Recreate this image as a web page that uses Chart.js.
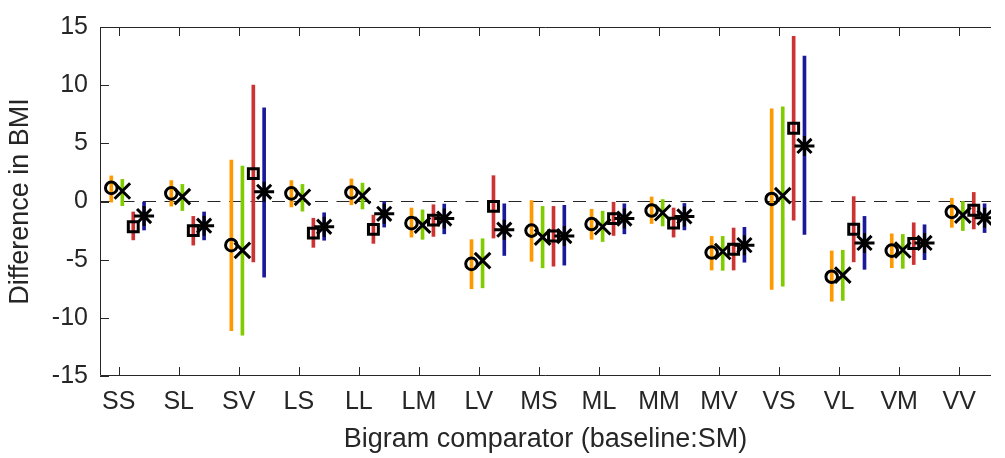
<!DOCTYPE html>
<html>
<head>
<meta charset="utf-8">
<script src="https://cdn.jsdelivr.net/npm/chart.js@4"></script>
<style>
  html, body { margin: 0; padding: 0; background: #fff; }
  #wrap { width: 1005px; height: 458px; }
</style>
</head>
<body>
<div id="wrap"><canvas id="bmiChart"></canvas></div>
<script>
// comparator bigrams (baseline SM)
const categories = ["SS", "SL", "SV", "LS", "LL", "LM", "LV", "MS", "ML", "MM", "MV", "VS", "VL", "VM", "VV"];

// orange / circle
const circleEst  = [1.17, 0.7, -3.75, 0.7, 0.78, -1.86, -5.36, -2.5, -1.94, -0.78, -4.39, 0.22, -6.47, -4.22, -0.89];
const circleLow  = [-0.05, -0.4, -11.1, -0.47, -0.28, -3.06, -7.5, -5.14, -3.25, -1.89, -5.89, -7.56, -8.58, -5.69, -2.22];
const circleHigh = [2.2, 1.8, 3.56, 1.8, 1.94, -0.56, -3.28, 0.08, -0.67, 0.39, -3.0, 7.97, -4.25, -2.78, 0.28];

// green / cross
const crossEst  = [0.9, 0.42, -4.2, 0.36, 0.5, -2.03, -5.08, -3.06, -2.17, -0.97, -4.3, 0.5, -6.33, -4.17, -1.17];
const crossLow  = [-0.36, -0.78, -11.5, -0.83, -0.64, -3.25, -7.42, -5.7, -3.44, -2.1, -5.92, -7.28, -8.5, -5.75, -2.5];
const crossHigh = [1.9, 1.47, 3.05, 1.47, 1.58, -0.72, -3.2, -0.42, -0.83, 0.17, -3.0, 8.14, -4.19, -2.83, 0];

// red / square
const squareEst  = [-2.17, -2.5, 2.4, -2.72, -2.4, -1.6, -0.42, -2.97, -1.47, -1.86, -4.1, 6.3, -2.39, -3.61, -0.75];
const squareLow  = [-3.3, -3.75, -5.2, -3.94, -3.6, -3.0, -3.14, -5.56, -2.92, -3.06, -5.89, -1.6, -5.19, -5.42, -2.36];
const squareHigh = [-0.9, -1.28, 10.0, -1.44, -1.17, -0.28, 2.22, -0.42, -0.06, -0.56, -2.28, 14.2, 0.42, -1.83, 0.78];

// blue / asterisk
const starEst  = [-1.25, -2.08, 0.83, -2.17, -1.06, -1.47, -2.42, -2.97, -1.47, -1.28, -3.75, 4.78, -3.56, -3.56, -1.39];
const starLow  = [-2.45, -3.3, -6.5, -3.33, -2.2, -2.78, -4.64, -5.47, -2.78, -2.44, -5.22, -2.83, -5.83, -5.0, -2.67];
const starHigh = [-0.05, -0.9, 8.05, -0.97, 0, -0.22, -0.2, -0.33, -0.2, -0.17, -2.22, 12.5, -1.28, -2.0, -0.2];

const yTicks = [-15, -10, -5, 0, 5, 10, 15];

const axisColor = "#262626";
const font = "'Liberation Sans', Arial, Helvetica, sans-serif";

// each series sits a little to the right of the previous one inside a group
const series = [
    { est: circleEst, low: circleLow, high: circleHigh, color: "#FF9900", style: "circle",   radius: 5.8, off: -0.123 },
    { est: crossEst,  low: crossLow,  high: crossHigh,  color: "#80CC00", style: "crossRot", radius: 11,  off: 0.061 },
    { est: squareEst, low: squareLow, high: squareHigh, color: "#CC3333", style: "rect",     radius: 7,   off: 0.243 },
    { est: starEst,   low: starLow,   high: starHigh,   color: "#1A1A99", style: "star",     radius: 10,  off: 0.423 }
];

const xMin = 0.689, xMax = 15.53;

let datasets = [];

// dashed zero line
datasets.push({
    type: "line",
    data: [{ x: xMin, y: 0 }, { x: xMax, y: 0 }],
    borderColor: "#262626",
    borderWidth: 1,
    borderDash: [13, 8.5],
    pointRadius: 0,
    order: 3
});

// error bars
series.forEach(s => {
    datasets.push({
        type: "bar",
        data: categories.map((c, i) => ({ x: i + 1 + s.off, y: [s.low[i], s.high[i]] })),
        backgroundColor: s.color,
        borderWidth: 0,
        barThickness: 3,
        grouped: false,
        order: 2
    });
});

// point estimates
series.forEach(s => {
    datasets.push({
        type: "scatter",
        data: categories.map((c, i) => ({ x: i + 1 + s.off, y: s.est[i] })),
        pointStyle: s.style,
        pointRadius: s.radius,
        pointHoverRadius: s.radius,
        pointBorderColor: "#000",
        pointBackgroundColor: "rgba(0,0,0,0)",
        pointBorderWidth: 3,
        showLine: false,
        order: 1
    });
});

// matlab style box with inward ticks
const boxPlugin = {
    id: "boxPlugin",
    afterDraw(chart) {
        const ctx = chart.ctx;
        const a = chart.chartArea;
        const xs = chart.scales.x, ys = chart.scales.y;
        const tl = 9;
        ctx.save();
        ctx.strokeStyle = axisColor;
        ctx.lineWidth = 1;
        ctx.beginPath();
        ctx.moveTo(a.right, a.top + 0.5);
        ctx.lineTo(a.left + 0.5, a.top + 0.5);
        ctx.lineTo(a.left + 0.5, a.bottom - 0.5);
        ctx.lineTo(a.right, a.bottom - 0.5);
        xs.ticks.forEach(t => {
            const px = Math.round(xs.getPixelForValue(t.value)) + 0.5;
            ctx.moveTo(px, a.bottom);
            ctx.lineTo(px, a.bottom - tl);
            ctx.moveTo(px, a.top);
            ctx.lineTo(px, a.top + tl);
        });
        ys.ticks.forEach(t => {
            const py = Math.round(ys.getPixelForValue(t.value)) + 0.5;
            ctx.moveTo(a.left, py);
            ctx.lineTo(a.left + tl, py);
        });
        ctx.stroke();
        ctx.restore();
    }
};

new Chart(document.getElementById("bmiChart"), {
    type: "scatter",
    data: { datasets: datasets },
    options: {
        responsive: true,
        maintainAspectRatio: false,
        animation: false,
        layout: { padding: { top: 17, right: 0, left: 0, bottom: 0 } },
        plugins: {
            legend: { display: false },
            tooltip: { enabled: false }
        },
        scales: {
            x: {
                type: "linear",
                min: xMin,
                max: xMax,
                offset: false,
                afterBuildTicks: scale => {
                    scale.ticks = categories.map((c, i) => ({ value: i + 1 }));
                },
                afterFit: scale => { scale.height = 82; },
                grid: { display: false, drawTicks: false },
                border: { display: false },
                ticks: {
                    autoSkip: false,
                    maxRotation: 0,
                    padding: 11,
                    color: axisColor,
                    font: { family: font, size: 25 },
                    callback: v => categories[Math.round(v) - 1]
                },
                title: {
                    display: true,
                    text: "Bigram comparator (baseline:SM)",
                    color: axisColor,
                    font: { family: font, size: 27 },
                    padding: { top: 0, bottom: 2 }
                }
            },
            y: {
                min: -15,
                max: 15,
                afterBuildTicks: scale => {
                    scale.ticks = yTicks.map(v => ({ value: v }));
                },
                afterFit: scale => { scale.width = 100; },
                grid: { display: false, drawTicks: false },
                border: { display: false },
                ticks: {
                    padding: 12,
                    color: axisColor,
                    font: { family: font, size: 25 }
                },
                title: {
                    display: true,
                    text: "Difference in BMI",
                    color: axisColor,
                    font: { family: font, size: 27 },
                    padding: { top: 4, bottom: 0 }
                }
            }
        }
    },
    plugins: [boxPlugin]
});
</script>
</body>
</html>
